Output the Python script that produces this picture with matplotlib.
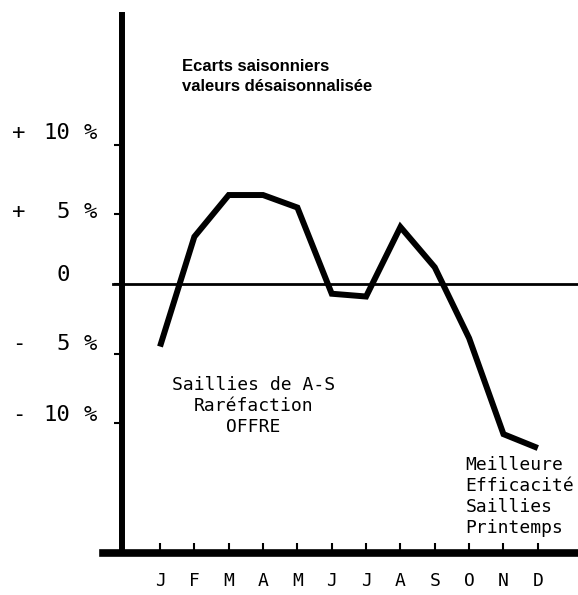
import matplotlib
matplotlib.use('Agg')
import matplotlib.pyplot as plt
from matplotlib.transforms import offset_copy


# monthly seasonal deviations (%)
months = ['J', 'F', 'M', 'A', 'M', 'J', 'J', 'A', 'S', 'O', 'N', 'D']
ecarts = [-4.5, 3.4, 6.4, 6.4, 5.5, -0.7, -0.9, 4.1, 1.2, -3.9, -10.8, -11.8]

# y axis labels, typed in three pieces like on the typewriter original
ytick_values = [10, 5, 0, -5, -10]
ytick_signs = ['+', '+', '', '-', '-']
ytick_numbers = ['10', '5', '0', '5', '10']
ytick_units = ['%', '%', '', '%', '%']

title_text = 'Ecarts saisonniers\nvaleurs désaisonnalisée'
note_left = 'Saillies de A-S\nRaréfaction\nOFFRE'
note_right = 'Meilleure\nEfficacité\nSaillies\nPrintemps'

mono = 'DejaVu Sans Mono'

fig = plt.figure(figsize=(5.78, 5.95), dpi=100)
ax = fig.add_axes([103 / 578, 42 / 595, 475 / 578, 538 / 595])

x = list(range(len(months)))
ax.plot(x, ecarts, color='black', lw=4.3, solid_joinstyle='miter',
        solid_capstyle='butt', zorder=3)

# zero line, starts a little left of the vertical axis
ax.axhline(0, xmin=10 / 475, color='black', lw=2, zorder=2)

ax.set_xlim(-1.66, 12.17)
ax.set_ylim(-19.35, 19.35)

# spines: thick vertical axis placed inside, bottom axis runs past it
for side in ['top', 'right']:
    ax.spines[side].set_visible(False)
ax.spines['left'].set_position(('data', -1.106))
ax.spines['left'].set_linewidth(4.3)
ax.spines['bottom'].set_linewidth(5.5)

ax.set_xticks(x)
ax.set_xticklabels(months, fontfamily=mono, fontsize=13)
ax.tick_params(axis='x', direction='in', length=7, width=1.5, pad=13.5)

ax.set_yticks(ytick_values)
ax.tick_params(axis='y', direction='out', length=6, width=1.5, labelleft=False)

# y labels: sign, right-aligned number, percent sign
label_dy = [12, 2, 9, 10, 8]
for val, sign, num, unit, dy in zip(ytick_values, ytick_signs, ytick_numbers,
                                     ytick_units, label_dy):
    tr = offset_copy(ax.get_yaxis_transform(), fig=fig, y=dy, units='dots')
    ax.text(-0.177, val, sign, transform=tr, ha='center', va='center',
            fontfamily=mono, fontsize=16, clip_on=False)
    ax.text(-0.0695, val, num, transform=tr, ha='right', va='center',
            fontfamily=mono, fontsize=16, clip_on=False)
    ax.text(-0.0274, val, unit, transform=tr, ha='center', va='center',
            fontfamily=mono, fontsize=16, clip_on=False)

ax.text(0.64, 14.93, title_text, ha='left', va='center',
        fontfamily='Liberation Sans', fontweight='bold', fontsize=12,
        linespacing=1.35)
ax.text(2.71, -8.78, note_left, ha='center', va='center',
        multialignment='center', fontfamily=mono, fontsize=13)
ax.text(8.9, -15.3, note_right, ha='left', va='center',
        multialignment='left', fontfamily=mono, fontsize=13)

fig.savefig('out.png', dpi=100)
